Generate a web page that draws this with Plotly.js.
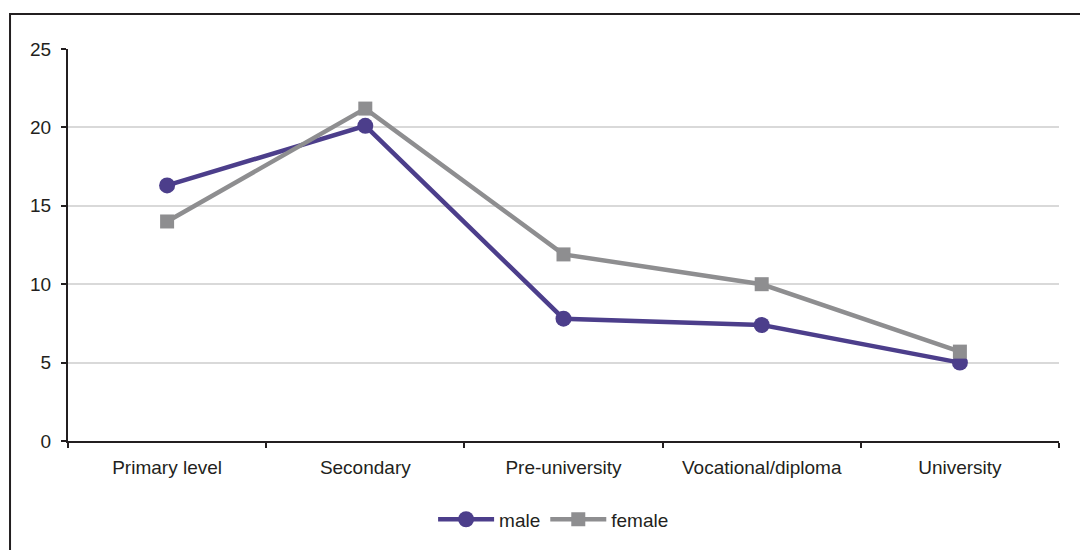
<!DOCTYPE html>
<html>
<head>
<meta charset="utf-8">
<script src="https://cdn.plot.ly/plotly-3.0.1.min.js"></script>
<style>html,body{margin:0;padding:0;background:#fff;}#chart{width:1080px;height:550px;}</style>
</head>
<body>
<div id="chart"></div>
<script>
var categories = ["Primary level", "Secondary", "Pre-university", "Vocational/diploma", "University"];
var maleValues = [16.3, 20.1, 7.8, 7.4, 5.0];
var femaleValues = [14.0, 21.2, 11.9, 10.0, 5.7];
var yTicks = [0, 5, 10, 15, 20, 25];

var FONT = '"Liberation Sans", Arial, sans-serif';
var TXT = "#231f20";

var traces = [
  {
    x: categories, y: maleValues, name: "male", type: "scatter", mode: "lines+markers",
    line: {color: "#4c3e8b", width: 4.5},
    marker: {symbol: "circle", size: 16, color: "#4c3e8b"}
  },
  {
    x: categories, y: femaleValues, name: "female", type: "scatter", mode: "lines+markers",
    line: {color: "#8e8e90", width: 4.5},
    marker: {symbol: "square", size: 14, color: "#8e8e90"}
  }
];

var layout = {
  width: 1080, height: 550,
  margin: {l: 68, r: 21, t: 49, b: 109},
  paper_bgcolor: "#fff", plot_bgcolor: "#fff",
  font: {family: FONT, size: 19, color: TXT},
  showlegend: true,
  legend: {orientation: "h", x: 0.49, xanchor: "center", y: -0.2, yanchor: "middle",
           font: {family: FONT, size: 19, color: TXT}, itemwidth: 56, tracegroupgap: 0},
  xaxis: {
    type: "category", range: [-0.5, 4.5],
    showline: true, linecolor: TXT, linewidth: 2,
    ticks: "outside", tickson: "boundaries", ticklen: 5, tickcolor: TXT, tickwidth: 2,
    showgrid: false, zeroline: false, automargin: false, ticklabelstandoff: 8,
    tickfont: {family: FONT, size: 19, color: TXT}
  },
  yaxis: {
    range: [0, 25], tickvals: yTicks, ticktext: yTicks.map(String),
    showline: true, linecolor: TXT, linewidth: 2,
    ticks: "outside", ticklen: 5, tickcolor: TXT, tickwidth: 2,
    showgrid: true, gridcolor: "#d9d9d9", gridwidth: 2, zeroline: false,
    automargin: false, ticklabelstandoff: 6,
    tickfont: {family: FONT, size: 19, color: TXT}
  },
  shapes: [
    {type: "rect", xref: "paper", yref: "paper", x0: -0.0585, x1: 1.03, y0: -0.31, y1: 1.0893,
     line: {color: TXT, width: 2}, fillcolor: "rgba(0,0,0,0)", layer: "below"}
  ]
};

Plotly.newPlot("chart", traces, layout, {displayModeBar: false, staticPlot: true});
</script>
</body>
</html>
